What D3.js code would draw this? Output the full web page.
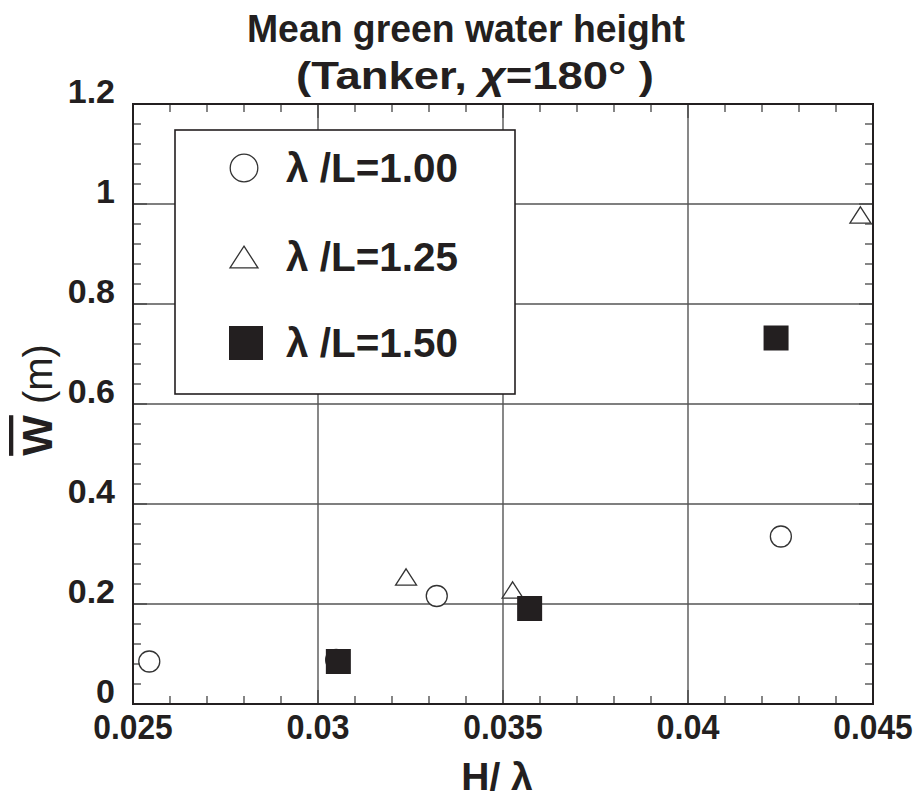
<!DOCTYPE html>
<html>
<head>
<meta charset="utf-8">
<script src="https://cdn.jsdelivr.net/npm/d3@7"></script>
<style>
  body { margin: 0; background: #fff; }
  text { font-family: "Liberation Sans", Arial, sans-serif; font-weight: bold; fill: #231f20; }
</style>
</head>
<body>
<div id="graph"></div>
<script>
/*
    Mean green water height, tanker, head seas
*/

// data
var xTicks = [0.025, 0.03, 0.035, 0.04, 0.045]
var xTickLabels = ["0.025", "0.03", "0.035", "0.04", "0.045"]
var yTicks = [0, 0.2, 0.4, 0.6, 0.8, 1, 1.2]
var yTickLabels = ["0", "0.2", "0.4", "0.6", "0.8", "1", "1.2"]

var seriesNames = ["\u03bb /L=1.00", "\u03bb /L=1.25", "\u03bb /L=1.50"]

var x100 = [0.02544, 0.03049, 0.03321, 0.04251]
var y100 = [0.085, 0.088, 0.216, 0.335]

var x125 = [0.03238, 0.03526, 0.04466]
var y125 = [0.254, 0.228, 0.978]

var x150 = [0.03055, 0.03572, 0.04238]
var y150 = [0.085, 0.191, 0.732]

var W = 921, H = 797
var margin = {top: 104, right: 48, bottom: 93, left: 133},
    width = W - margin.left - margin.right,
    height = H - margin.top - margin.bottom

var svg = d3.select("#graph").append("svg")
    .attr("width", W)
    .attr("height", H)

var g = svg.append("g")
    .attr("transform", "translate(" + margin.left + "," + margin.top + ")")

var x = d3.scaleLinear().domain([0.025, 0.045]).range([0, width])
var y = d3.scaleLinear().domain([0, 1.2]).range([height, 0])

// grid lines at the major ticks
g.selectAll(".gx").data(xTicks.slice(1, -1)).enter().append("line")
    .attr("x1", function(d) { return x(d) }).attr("x2", function(d) { return x(d) })
    .attr("y1", 0).attr("y2", height)
    .attr("stroke", "#555").attr("stroke-width", 1.4)
g.selectAll(".gy").data(yTicks.slice(1, -1)).enter().append("line")
    .attr("y1", function(d) { return y(d) }).attr("y2", function(d) { return y(d) })
    .attr("x1", 0).attr("x2", width)
    .attr("stroke", "#555").attr("stroke-width", 1.4)

// minor ticks on all four sides, pointing in
var xMinor = d3.range(0, 21).map(function(i) { return 0.025 + i * 0.001 })
var yMinor = d3.range(0, 31).map(function(i) { return i * 0.04 })

function isMajorX(d) { return Math.abs(d / 0.005 - Math.round(d / 0.005)) < 1e-6 }
function isMajorY(d) { return Math.abs(d / 0.2 - Math.round(d / 0.2)) < 1e-6 }

g.selectAll(".mxb").data(xMinor).enter().append("line")
    .attr("x1", function(d) { return x(d) }).attr("x2", function(d) { return x(d) })
    .attr("y1", height).attr("y2", function(d) { return height - (isMajorX(d) ? 14 : 8) })
    .attr("stroke", "#444").attr("stroke-width", 1.3)
g.selectAll(".mxt").data(xMinor).enter().append("line")
    .attr("x1", function(d) { return x(d) }).attr("x2", function(d) { return x(d) })
    .attr("y1", 0).attr("y2", function(d) { return isMajorX(d) ? 14 : 8 })
    .attr("stroke", "#444").attr("stroke-width", 1.3)
g.selectAll(".myl").data(yMinor).enter().append("line")
    .attr("y1", function(d) { return y(d) }).attr("y2", function(d) { return y(d) })
    .attr("x1", 0).attr("x2", function(d) { return isMajorY(d) ? 14 : 8 })
    .attr("stroke", "#444").attr("stroke-width", 1.3)
g.selectAll(".myr").data(yMinor).enter().append("line")
    .attr("y1", function(d) { return y(d) }).attr("y2", function(d) { return y(d) })
    .attr("x1", width).attr("x2", function(d) { return width - (isMajorY(d) ? 14 : 8) })
    .attr("stroke", "#444").attr("stroke-width", 1.3)

// frame
g.append("rect")
    .attr("width", width).attr("height", height)
    .attr("fill", "none").attr("stroke", "#231f20").attr("stroke-width", 2)

// tick labels, a bit narrow like the original font
g.selectAll(".xl").data(xTicks).enter().append("text")
    .attr("x", function(d) { return x(d) })
    .attr("y", height + 35)
    .attr("text-anchor", "middle")
    .attr("textLength", function(d, i) { return xTickLabels[i].length * 16.5 - 3 })
    .attr("lengthAdjust", "spacingAndGlyphs")
    .style("font-size", "35px")
    .text(function(d, i) { return xTickLabels[i] })

g.selectAll(".yl").data(yTicks).enter().append("text")
    .attr("x", -18)
    .attr("y", function(d) { return y(d) - 1 })
    .attr("text-anchor", "end")
    .style("font-size", "34px")
    .text(function(d, i) { return yTickLabels[i] })

// axis titles
svg.append("text")
    .attr("x", 497).attr("y", 790)
    .attr("text-anchor", "middle")
    .style("font-size", "39px")
    .text("H/ \u03bb")

var yTitle = svg.append("text")
    .attr("transform", "translate(52,400) rotate(-90)")
    .attr("text-anchor", "middle")
yTitle.append("tspan")
    .style("font-size", "43px")
    .style("text-decoration", "overline")
    .text("W")
yTitle.append("tspan")
    .style("font-size", "40px")
    .style("font-weight", "normal")
    .text(" (m)")

// chart title
svg.append("text")
    .attr("x", 466).attr("y", 42)
    .attr("text-anchor", "middle")
    .attr("textLength", 438).attr("lengthAdjust", "spacingAndGlyphs")
    .style("font-size", "38px")
    .text("Mean green water height")
var t2 = svg.append("text")
    .attr("x", 475).attr("y", 89)
    .attr("text-anchor", "middle")
    .attr("textLength", 358).attr("lengthAdjust", "spacingAndGlyphs")
    .style("font-size", "39px")
t2.append("tspan").text("(Tanker,  ")
t2.append("tspan").style("font-style", "italic").text("\u03c7")
t2.append("tspan").text("=180\u00b0   )")

// markers
function triPath(s) {
    // flat open triangle as drawn in the picture
    var w = s, h = s * 0.78
    return "M0," + (-h / 2) + "L" + (w / 2) + "," + (h / 2) + "L" + (-w / 2) + "," + (h / 2) + "Z"
}

function drawCircle(sel, cx, cy, r) {
    sel.append("circle").attr("cx", cx).attr("cy", cy).attr("r", r)
        .attr("fill", "#fff").attr("stroke", "#333").attr("stroke-width", 1.3)
}
function drawTri(sel, cx, cy, s) {
    sel.append("path").attr("d", triPath(s))
        .attr("transform", "translate(" + cx + "," + cy + ")")
        .attr("fill", "#fff").attr("stroke", "#333").attr("stroke-width", 1.3)
}
function drawSquare(sel, cx, cy, s) {
    sel.append("rect").attr("x", cx - s / 2).attr("y", cy - s / 2)
        .attr("width", s).attr("height", s)
        .attr("fill", "#231f20")
}

var pts = g.append("g")
x100.forEach(function(d, i) { drawCircle(pts, x(d), y(y100[i]), 10.5) })
x125.forEach(function(d, i) { drawTri(pts, x(d), y(y125[i]), 21) })
x150.forEach(function(d, i) { drawSquare(pts, x(d), y(y150[i]), 25) })

// legend
var lg = svg.append("g").attr("transform", "translate(175,130)")
lg.append("rect")
    .attr("width", 340).attr("height", 264)
    .attr("fill", "#fff").attr("stroke", "#231f20").attr("stroke-width", 1.6)

var rowY = [38, 127, 213]
drawCircle(lg, 69, rowY[0], 13.8)
drawTri(lg, 69, rowY[1], 28)
drawSquare(lg, 71, rowY[2], 34)

lg.selectAll(".lt").data(seriesNames).enter().append("text")
    .attr("x", 111)
    .attr("y", function(d, i) { return rowY[i] + 14 })
    .attr("textLength", 172).attr("lengthAdjust", "spacingAndGlyphs")
    .style("font-size", "40px")
    .text(function(d) { return d })
</script>
</body>
</html>
